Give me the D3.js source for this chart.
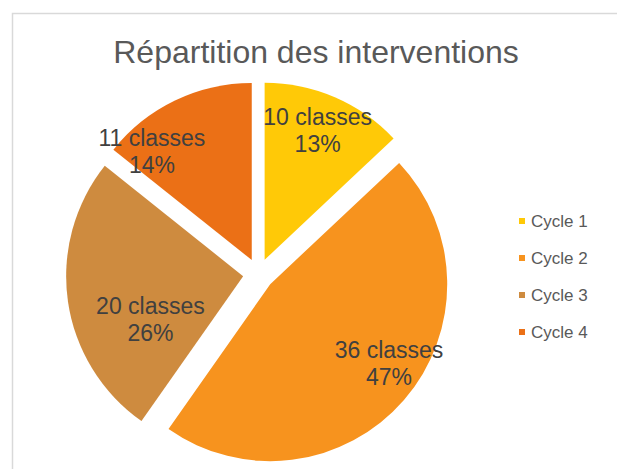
<!DOCTYPE html>
<html>
<head>
<meta charset="utf-8">
<script src="https://cdn.jsdelivr.net/npm/d3@7"></script>
<style>
  body { margin: 0; background: #fff; }
  svg { display: block; font-family: "Liberation Sans", Arial, sans-serif; }
</style>
</head>
<body>
<svg id="chart"></svg>
<script>
const width = 617, height = 469;

// data
const categories = ["Cycle 1", "Cycle 2", "Cycle 3", "Cycle 4"];
const classes = [10, 36, 20, 11];
const percents = ["13%", "47%", "26%", "14%"];
const colors = ["#FFC907", "#F7931E", "#CE8B3F", "#EB7016"];

// Excel "best fit" label spots: shift from the slice mid angle (deg) and fraction of radius
const labelShift = [-1.1, -7.3, -16.6, -16.8];
const labelRadius = [0.79, 0.806, 0.577, 0.835];

const cx = 258.5, cy = 274, radius = 177, explode = 15.5;

const svg = d3.select("#chart")
  .attr("width", width)
  .attr("height", height);

// chart border
svg.append("rect")
  .attr("x", 12.5)
  .attr("y", 13.5)
  .attr("width", 640)
  .attr("height", 480)
  .attr("fill", "none")
  .attr("stroke", "#d9d9d9")
  .attr("stroke-width", 1.5);

// title
svg.append("text")
  .attr("x", 316)
  .attr("y", 63)
  .attr("text-anchor", "middle")
  .attr("font-size", 32)
  .attr("fill", "#595959")
  .text("Répartition des interventions");

const pie = d3.pie().sort(null).value(d => d);
const arcs = pie(classes);
const arc = d3.arc().innerRadius(0).outerRadius(radius);

const g = svg.append("g").attr("transform", "translate(" + cx + "," + cy + ")");

const slices = g.selectAll("g.slice")
  .data(arcs)
  .join("g")
  .attr("class", "slice")
  .attr("transform", d => {
    const mid = (d.startAngle + d.endAngle) / 2;
    return "translate(" + (explode * Math.sin(mid)) + "," + (-explode * Math.cos(mid)) + ")";
  });

slices.append("path")
  .attr("d", arc)
  .attr("fill", (d, i) => colors[i]);

// data labels
slices.each(function(d, i) {
  const mid = (d.startAngle + d.endAngle) / 2 + labelShift[i] * Math.PI / 180;
  const r = radius * labelRadius[i];
  const x = r * Math.sin(mid), y = -r * Math.cos(mid);
  const t = d3.select(this).append("text")
    .attr("text-anchor", "middle")
    .attr("font-size", 23)
    .attr("fill", "#404040");
  t.append("tspan").attr("x", x).attr("y", y - 5).text(classes[i] + " classes");
  t.append("tspan").attr("x", x).attr("y", y + 22).text(percents[i]);
});

// legend
const legend = svg.append("g");
const legendY = d3.scalePoint().domain(categories).range([221, 332]);

legend.selectAll("rect")
  .data(categories)
  .join("rect")
  .attr("x", 519)
  .attr("y", d => legendY(d) - 3)
  .attr("width", 6)
  .attr("height", 6)
  .attr("fill", (d, i) => colors[i]);

legend.selectAll("text")
  .data(categories)
  .join("text")
  .attr("x", 531)
  .attr("y", d => legendY(d) + 6)
  .attr("font-size", 17)
  .attr("fill", "#595959")
  .text(d => d);
</script>
</body>
</html>
